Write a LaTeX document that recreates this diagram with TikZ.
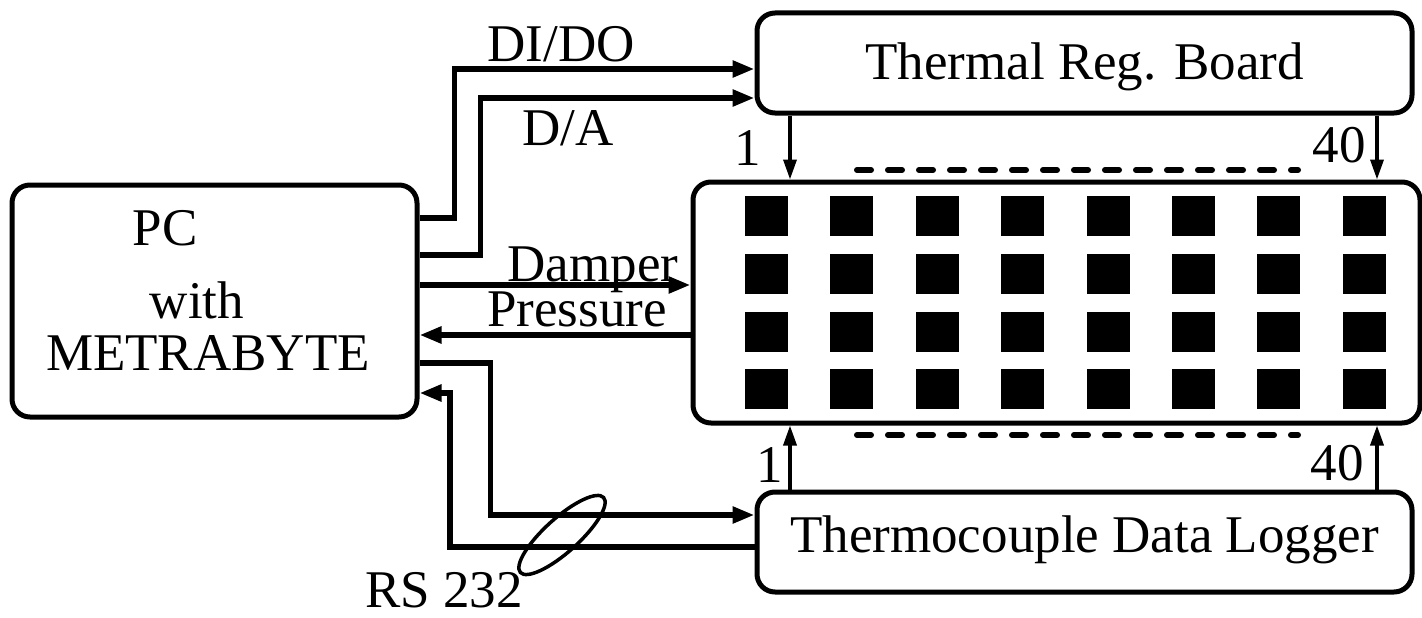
\documentclass[tikz,border=0pt]{standalone}
\usepackage{fontspec}
\setmainfont{Liberation Serif}
\usetikzlibrary{arrows.meta,calc}
\begin{document}
\begin{tikzpicture}[x=1pt,y=-1pt,
  box/.style={draw, line width=5pt, rounded corners=18pt, inner sep=0pt},
  conn/.style={line width=5.5pt, -{Triangle[length=22pt,width=16pt]}},
  tick/.style={line width=3.5pt, -{Triangle[length=20pt,width=13pt]}},
  lbl/.style={inner sep=0pt, font=\fontsize{53}{60}\selectfont},
  dashline/.style={line width=6pt, dash pattern=on 14pt off 17pt, line cap=round},
  cell/.style={fill=black}]
\useasboundingbox (0,0) rectangle (1422,618);

% boxes
\node[box, minimum width=405pt, minimum height=232pt] (pc) at (214.5,301) {};
\node[box, lbl, minimum width=655pt, minimum height=100pt, text height=34pt, text depth=0pt] (trb) at (1084.5,63) {Thermal Reg. Board};
\node[box, minimum width=727pt, minimum height=241pt] (mid) at (1056.5,302.5) {};
\node[box, lbl, minimum width=655pt, minimum height=100pt, text height=30pt, text depth=10pt] (tdl) at (1084.5,542) {Thermocouple Data Logger};

% PC text
\node[lbl, anchor=base] (pct) at (165,245) {PC};
\node[lbl, anchor=base] (witht) at (197,318) {with};
\node[lbl, anchor=base] (metra) at (208,370) {METRABYTE};

% sensor cells
\foreach \i in {0,...,7}
  \foreach \y in {196,254,312,369}
    \fill[cell] (745+85.4*\i,\y) rectangle ++(43,40);

% connectors PC <-> TRB
\draw[conn] ([yshift=83pt]pc.east) -- ++(35,0) |- ([yshift=-6pt]trb.west);
\draw[conn] ([yshift=46pt]pc.east) -- ++(61,0) |- ([yshift=-35pt]trb.west);
% damper / pressure
\draw[conn] ([yshift=16pt]pc.east) -- ([yshift=16pt]pc.east -| mid.west);
\draw[conn] ([yshift=-34pt]pc.east -| mid.west) -- ([yshift=-34pt]pc.east);
% RS 232
\coordinate (rsin) at (450,393);
\draw[conn] ([yshift=-62pt]pc.east) -- ++(71,0) |- ([yshift=27pt]tdl.west);
\draw[conn] ([yshift=-5pt]tdl.west) -| (rsin) -- (rsin -| pc.east);
\draw[line width=3.5pt, rotate around={42:(562,535)}] (562,535) ellipse [x radius=56, y radius=17];

% channel arrows
\coordinate (c1) at (790,0);
\coordinate (c40) at (1377,0);
\draw[tick] (trb.south -| c1) -- (mid.north -| c1);
\draw[tick] (trb.south -| c40) -- (mid.north -| c40);
\draw[tick] (tdl.north -| c1) -- (mid.south -| c1);
\draw[tick] (tdl.north -| c40) -- (mid.south -| c40);
\draw[dashline] (857,170) -- (1298,170);
\draw[dashline] (857,435) -- (1298,435);

% labels
\node[lbl, anchor=base] (ldido) at (561,62) {DI/DO};
\node[lbl, anchor=base] (lda) at (568,145) {D/A};
\node[lbl, anchor=base] (lone) at (748,165) {1};
\node[lbl, anchor=base] (lforty) at (1339,162) {40};
\node[lbl, anchor=base, text depth=0pt] (ldamp) at (593,281) {Damper};
\node[lbl, anchor=base, text height=35pt] (lpress) at (577,326) {Pressure};
\node[lbl, anchor=base] (lone2) at (770,482) {1};
\node[lbl, anchor=base] (lforty2) at (1337,480) {40};
\node[lbl, anchor=base east, text depth=0pt] (lrs) at (523,607) {RS 232};
\end{tikzpicture}
\end{document}
